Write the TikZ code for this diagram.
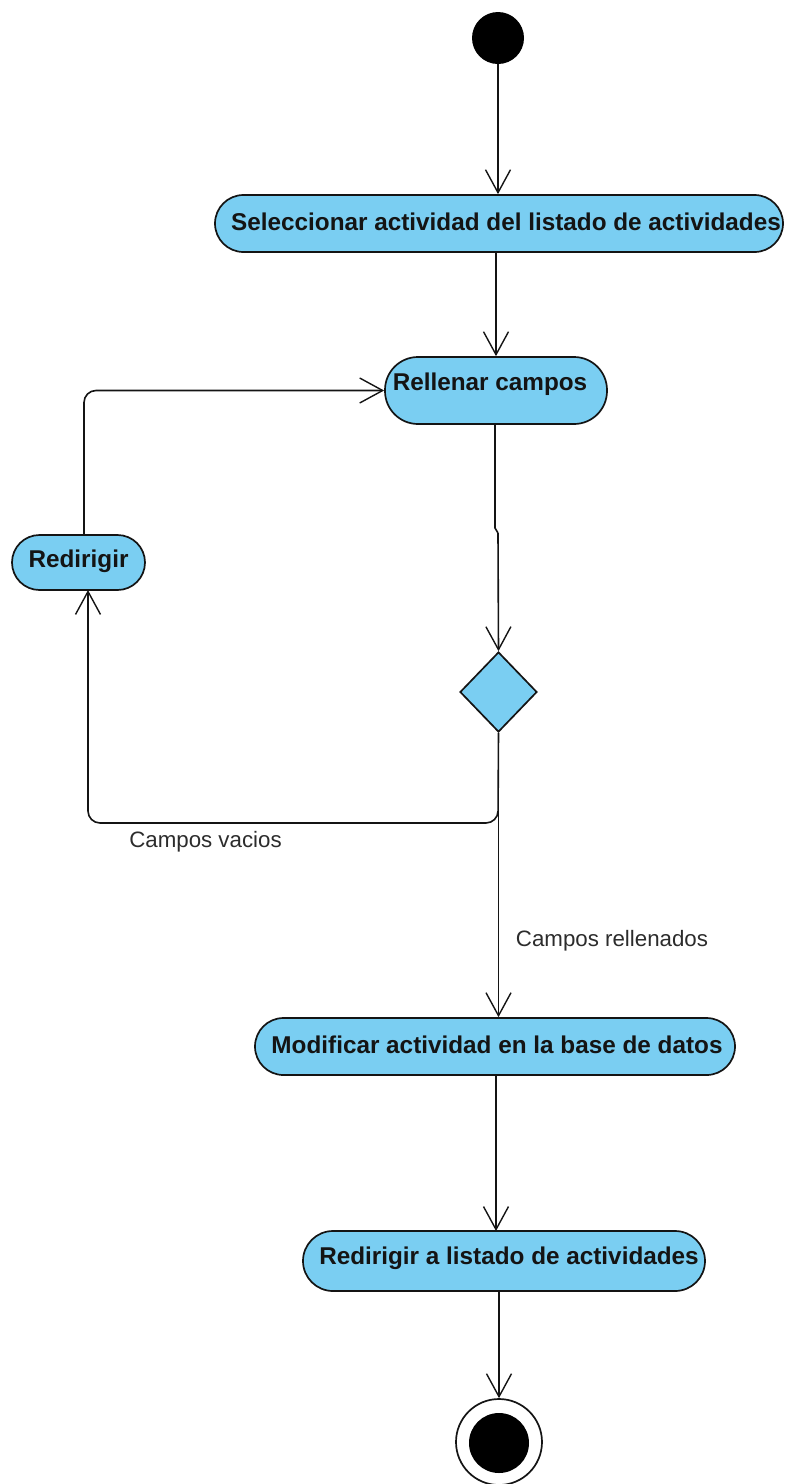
\documentclass[tikz,border=0pt]{standalone}
\usepackage{fontspec}
\setmainfont{Liberation Sans}
\usetikzlibrary{arrows.meta,shapes.geometric}
\definecolor{actfill}{RGB}{122,206,242}
\definecolor{ink}{RGB}{20,20,20}
\begin{document}
\begin{tikzpicture}[x=1pt,y=-1pt,
  act/.style={draw=ink,fill=actfill,line width=1.7pt,rounded corners=#1,inner sep=0pt},
  acttxt/.style={font=\fontsize{24.3}{28}\selectfont\bfseries,text=ink,inner sep=0pt,anchor=center},
  lbl/.style={font=\fontsize{22.3}{26}\selectfont,text=ink!90,inner sep=0pt,anchor=center},
  flow/.style={draw=ink,line width=1.6pt,-{Straight Barb[length=23pt,width=25pt,line width=1.4pt]}},
  plain/.style={draw=ink,line width=1.6pt},
  gate/.style={diamond,draw=ink,fill=actfill,line width=1.7pt,minimum width=77pt,minimum height=80pt,inner sep=0pt}
]
\useasboundingbox (0,0) rectangle (785,1484);

% start and end points
\node[circle,fill=black,minimum size=52pt,inner sep=0pt] (start) at (498,38) {};
\node[circle,draw=ink,fill=white,line width=1.7pt,minimum size=86pt,inner sep=0pt] (final) at (499,1442) {};
\node[circle,fill=black,minimum size=60pt,inner sep=0pt] (finaldot) at (499,1443) {};

% activities
\node[act=28.5pt,minimum width=568pt,minimum height=57pt] (sel) at (499,223.5) {};
\node[acttxt] (selt) at (506,222) {Seleccionar actividad del listado de actividades};

\node[act=33pt,minimum width=222pt,minimum height=67pt] (rell) at (496,390.5) {};
\node[acttxt] (rellt) at (490,384) {Rellenar campos};

\node[act=27.5pt,minimum width=133pt,minimum height=55pt] (redir) at (78.5,562.5) {};
\node[acttxt] (redirt) at (78.5,561) {Redirigir};

\node[gate] (dec) at (498.5,692) {};

\node[act=28.5pt,minimum width=480pt,minimum height=57pt] (mod) at (495,1046.5) {};
\node[acttxt] (modt) at (497,1045) {Modificar actividad en la base de datos};

\node[act=30pt,minimum width=402pt,minimum height=60pt] (list) at (504,1261) {};
\node[acttxt] (listt) at (509,1258) {Redirigir a listado de actividades};

% guard labels
\node[lbl] (lvac) at (205.5,842) {Campos vacios};
\node[lbl] (lrel) at (612,941) {Campos rellenados};

% bend points of the connectors
\coordinate (j1) at (495,528);
\coordinate (j2) at (498,533);

% connectors
\draw[flow] (start.south) -- (start.south |- sel.north);
\draw[flow] (sel.south -| rell.north) -- (rell.north);
\draw[plain] (rell.south -| j1) -- (j1) -- (j2);
\draw[flow] (j2) -- (dec.north);
\draw[flow,rounded corners=12pt] (redir.north -| 84,0) -- (84,390.5) -- (rell.west);
\draw[flow,rounded corners=12pt] (dec.south) -- (498,823) -- (88,823) -- (88,590);
\draw[flow] (dec.south) -- (dec.south |- mod.north);
\draw[flow] (mod.south -| 496,0) -- (496,1231);
\draw[flow] (list.south -| final.north) -- (final.north);
\end{tikzpicture}
\end{document}
